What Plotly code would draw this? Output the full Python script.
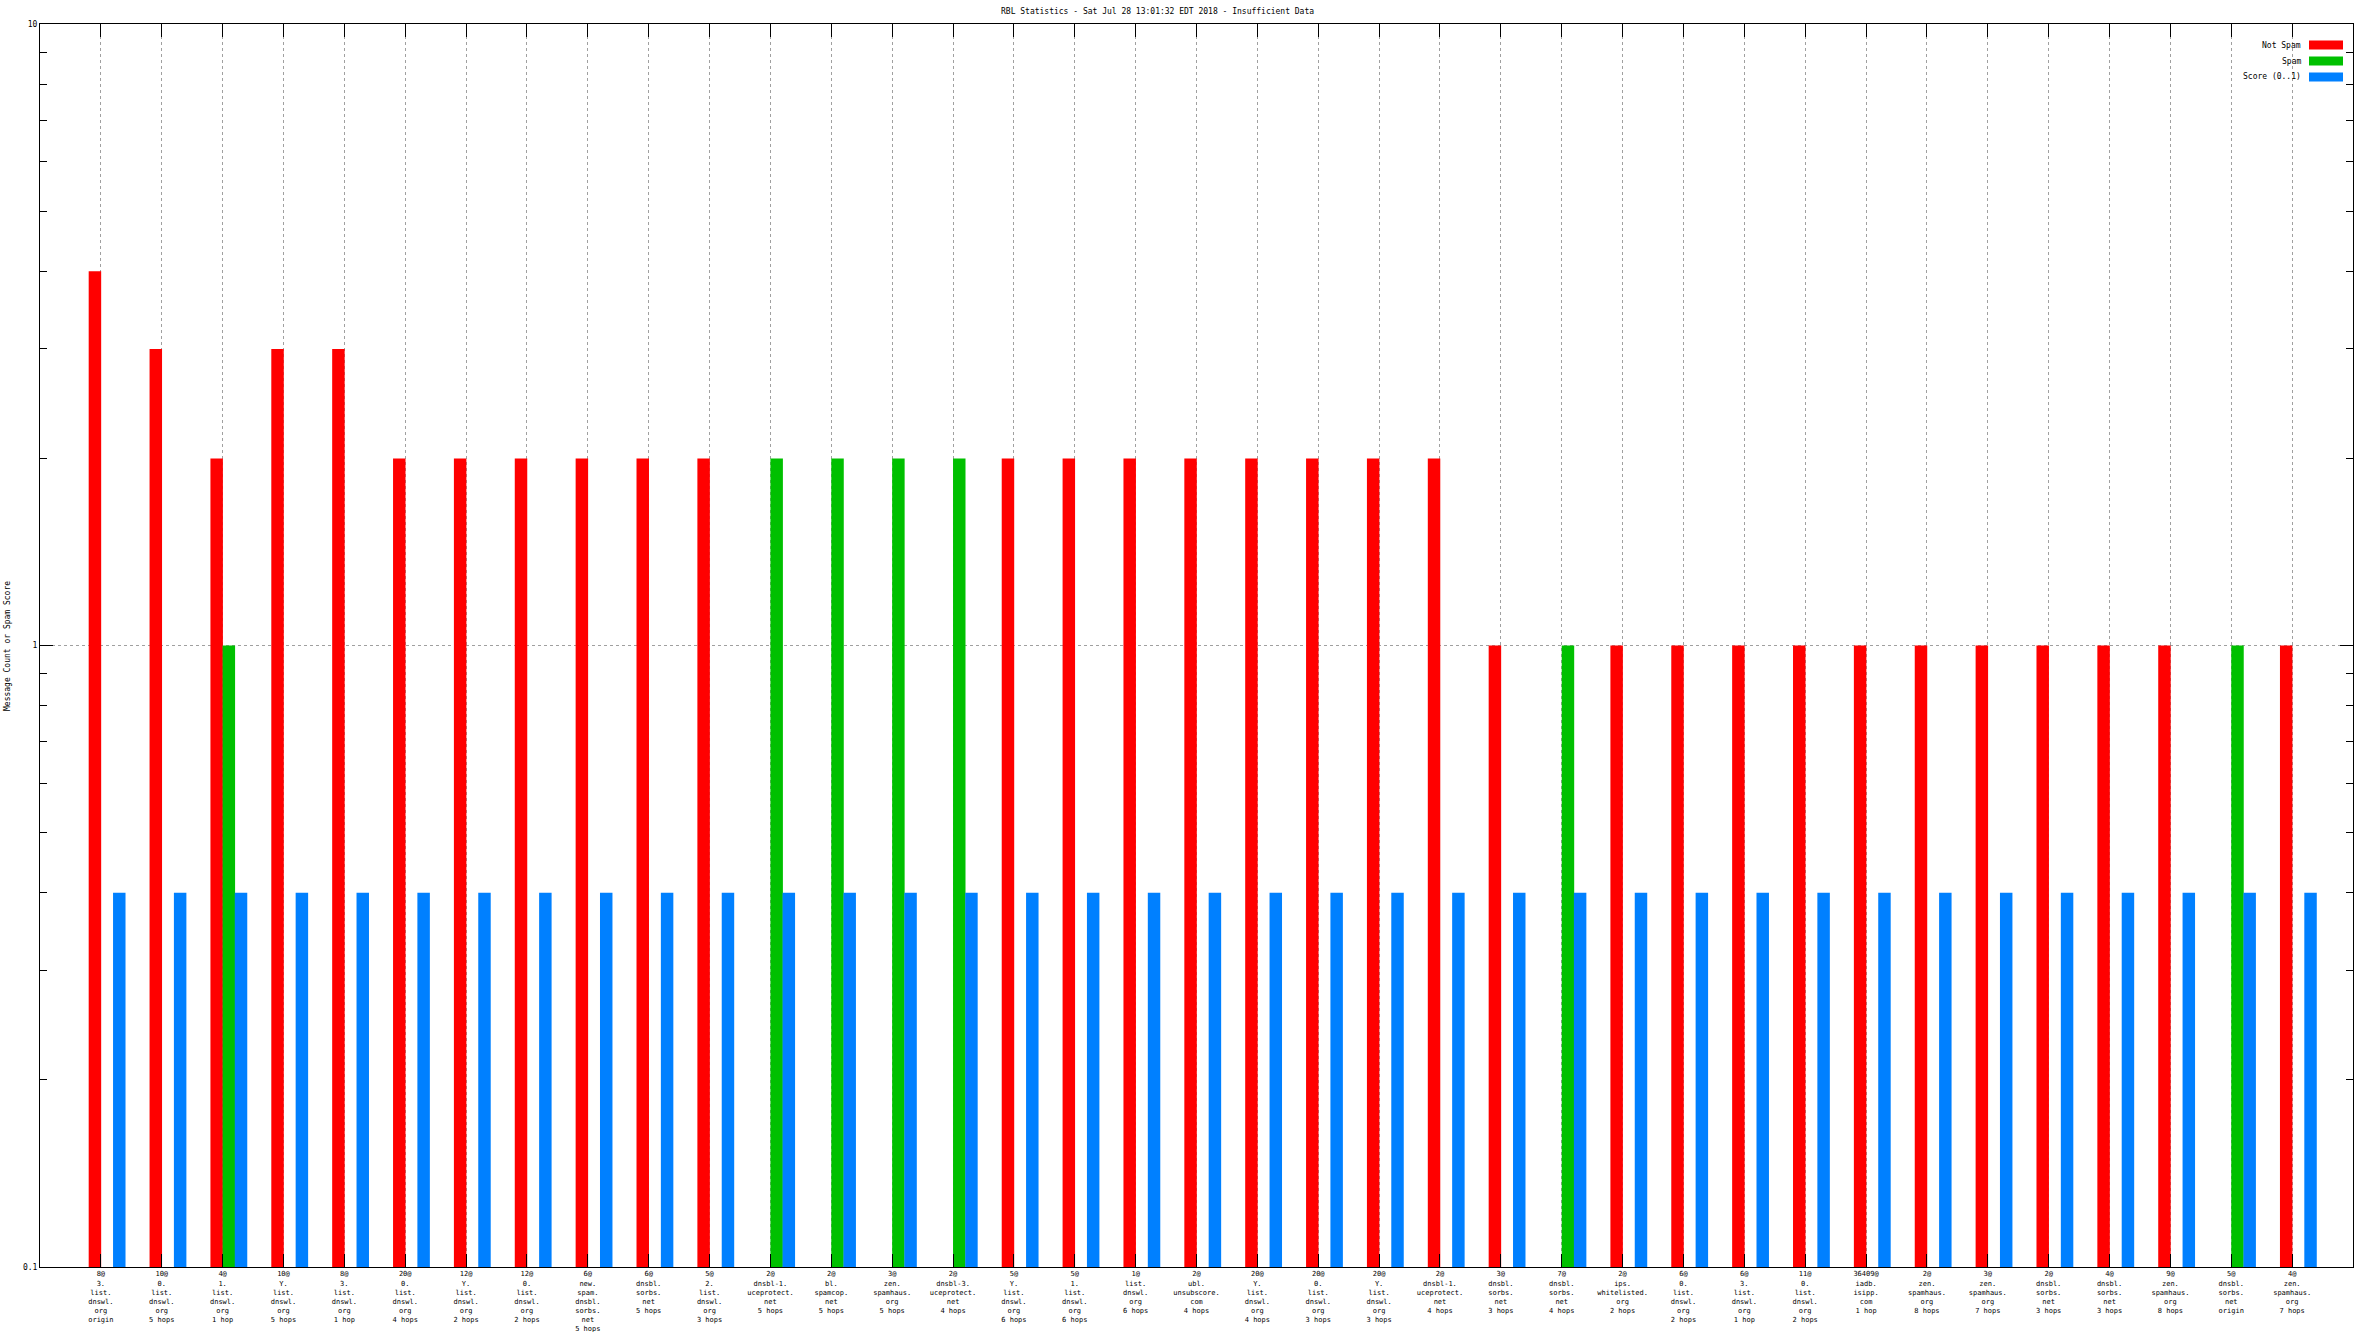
import plotly.graph_objects as go

# ---------------- data ----------------
categories = [
    "8@<br>3.<br>list.<br>dnswl.<br>org<br>origin",
    "10@<br>0.<br>list.<br>dnswl.<br>org<br>5 hops",
    "4@<br>1.<br>list.<br>dnswl.<br>org<br>1 hop",
    "10@<br>Y.<br>list.<br>dnswl.<br>org<br>5 hops",
    "8@<br>3.<br>list.<br>dnswl.<br>org<br>1 hop",
    "20@<br>0.<br>list.<br>dnswl.<br>org<br>4 hops",
    "12@<br>Y.<br>list.<br>dnswl.<br>org<br>2 hops",
    "12@<br>0.<br>list.<br>dnswl.<br>org<br>2 hops",
    "6@<br>new.<br>spam.<br>dnsbl.<br>sorbs.<br>net<br>5 hops",
    "6@<br>dnsbl.<br>sorbs.<br>net<br>5 hops",
    "5@<br>2.<br>list.<br>dnswl.<br>org<br>3 hops",
    "2@<br>dnsbl-1.<br>uceprotect.<br>net<br>5 hops",
    "2@<br>bl.<br>spamcop.<br>net<br>5 hops",
    "3@<br>zen.<br>spamhaus.<br>org<br>5 hops",
    "2@<br>dnsbl-3.<br>uceprotect.<br>net<br>4 hops",
    "5@<br>Y.<br>list.<br>dnswl.<br>org<br>6 hops",
    "5@<br>1.<br>list.<br>dnswl.<br>org<br>6 hops",
    "1@<br>list.<br>dnswl.<br>org<br>6 hops",
    "2@<br>ubl.<br>unsubscore.<br>com<br>4 hops",
    "20@<br>Y.<br>list.<br>dnswl.<br>org<br>4 hops",
    "20@<br>0.<br>list.<br>dnswl.<br>org<br>3 hops",
    "20@<br>Y.<br>list.<br>dnswl.<br>org<br>3 hops",
    "2@<br>dnsbl-1.<br>uceprotect.<br>net<br>4 hops",
    "3@<br>dnsbl.<br>sorbs.<br>net<br>3 hops",
    "7@<br>dnsbl.<br>sorbs.<br>net<br>4 hops",
    "2@<br>ips.<br>whitelisted.<br>org<br>2 hops",
    "6@<br>0.<br>list.<br>dnswl.<br>org<br>2 hops",
    "6@<br>3.<br>list.<br>dnswl.<br>org<br>1 hop",
    "11@<br>0.<br>list.<br>dnswl.<br>org<br>2 hops",
    "36409@<br>iadb.<br>isipp.<br>com<br>1 hop",
    "2@<br>zen.<br>spamhaus.<br>org<br>8 hops",
    "3@<br>zen.<br>spamhaus.<br>org<br>7 hops",
    "2@<br>dnsbl.<br>sorbs.<br>net<br>3 hops",
    "4@<br>dnsbl.<br>sorbs.<br>net<br>3 hops",
    "9@<br>zen.<br>spamhaus.<br>org<br>8 hops",
    "5@<br>dnsbl.<br>sorbs.<br>net<br>origin",
    "4@<br>zen.<br>spamhaus.<br>org<br>7 hops",
]

not_spam = [4, 3, 2, 3, 3, 2, 2, 2, 2, 2, 2, None, None, None, None, 2, 2, 2, 2,
            2, 2, 2, 2, 1, None, 1, 1, 1, 1, 1, 1, 1, 1, 1, 1, None, 1]
spam = [None, None, 1, None, None, None, None, None, None, None, None, 2, 2, 2, 2,
        None, None, None, None, None, None, None, None, None, 1, None, None, None,
        None, None, None, None, None, None, None, 1, None]
score = [0.4, 0.4, 0.4, 0.4, 0.4, 0.4, 0.4, 0.4, 0.4, 0.4, 0.4, 0.4, 0.4, 0.4,
         0.4, 0.4, 0.4, 0.4, 0.4, 0.4, 0.4, 0.4, 0.4, 0.4, 0.4, 0.4, 0.4, 0.4,
         0.4, 0.4, 0.4, 0.4, 0.4, 0.4, 0.4, 0.4, 0.4]

series_names = ["Not Spam", "Spam", "Score (0..1)"]
series_colors = ["#FF0000", "#00C000", "#0080FF"]
y_ticks = [0.1, 1, 10]
y_tick_text = ["0.1", "1", "10"]
y_minor = [0.2, 0.3, 0.4, 0.5, 0.6, 0.7, 0.8, 0.9, 2, 3, 4, 5, 6, 7, 8, 9]

# ---------------- layout geometry ----------------
W, H = 2368, 1332
ML, MR, MT, MB = 40, 15, 24, 65
PW, PH = W - ML - MR, H - MT - MB
FONT = "DejaVu Sans Mono"


def px_x(x):
    return (x - ML) / PW


def px_y(y):
    return (H - MB - y) / PH


x_idx = list(range(len(categories)))
bw = 0.205
offsets = [-0.2, 0.0, 0.2]

fig = go.Figure()
for name, vals, col, off in zip(series_names, [not_spam, spam, score], series_colors, offsets):
    fig.add_trace(go.Bar(
        x=x_idx, y=vals, name=name, marker=dict(color=col, line=dict(width=0)),
        width=bw, offset=off, showlegend=False,
    ))

axis_common = dict(
    showline=True, linecolor="black", linewidth=1, mirror="allticks",
    ticks="inside", ticklen=13, tickcolor="black", tickwidth=1,
    showgrid=True, gridcolor="#A0A0A0", griddash="dot", gridwidth=1,
    zeroline=False, automargin=False,
)

fig.update_xaxes(
    **axis_common, range=[-1, 37], tickmode="array", tickvals=x_idx,
    ticktext=categories, tickangle=0,
    tickfont=dict(family=FONT, size=7, color="black"),
)
fig.update_yaxes(
    **axis_common, type="log", range=[-1, 1], tickmode="array",
    tickvals=y_ticks, ticktext=y_tick_text,
    tickfont=dict(family=FONT, size=8, color="black"),
    minor=dict(tickvals=y_minor, ticks="inside", ticklen=7, tickcolor="black",
               showgrid=False),
)

# custom legend (text left of swatch, like gnuplot)
shapes = []
annotations = []
leg_rows = [45, 61, 77]
for name, col, yc in zip(series_names, series_colors, leg_rows):
    shapes.append(dict(type="rect", xref="paper", yref="paper",
                       x0=px_x(2309), x1=px_x(2343), y0=px_y(yc + 4.5), y1=px_y(yc - 4.5),
                       fillcolor=col, line=dict(width=0)))
    annotations.append(dict(text=name, xref="paper", yref="paper", x=px_x(2303), y=px_y(yc),
                            xanchor="right", yanchor="middle", showarrow=False,
                            font=dict(family=FONT, size=8, color="black")))

annotations.append(dict(text="Message Count or Spam Score", xref="paper", yref="paper",
                        x=px_x(7), y=px_y(646), textangle=-90, xanchor="center",
                        yanchor="middle", showarrow=False,
                        font=dict(family=FONT, size=8, color="black")))
annotations.append(dict(text="RBL Statistics - Sat Jul 28 13:01:32 EDT 2018 - Insufficient Data",
                        xref="paper", yref="paper", x=px_x(1157), y=px_y(12),
                        xanchor="center", yanchor="middle", showarrow=False,
                        font=dict(family=FONT, size=8, color="black")))

fig.update_layout(
    width=W, height=H, margin=dict(l=ML, r=MR, t=MT, b=MB, pad=0, autoexpand=False),
    paper_bgcolor="white", plot_bgcolor="white", barmode="overlay",
    shapes=shapes, annotations=annotations, showlegend=False,
    font=dict(family=FONT, size=8, color="black"),
)

fig.write_html(
    "out.html",
    config={"displayModeBar": False},
    post_script="document.body.style.margin='0';document.body.style.overflow='hidden';",
)
